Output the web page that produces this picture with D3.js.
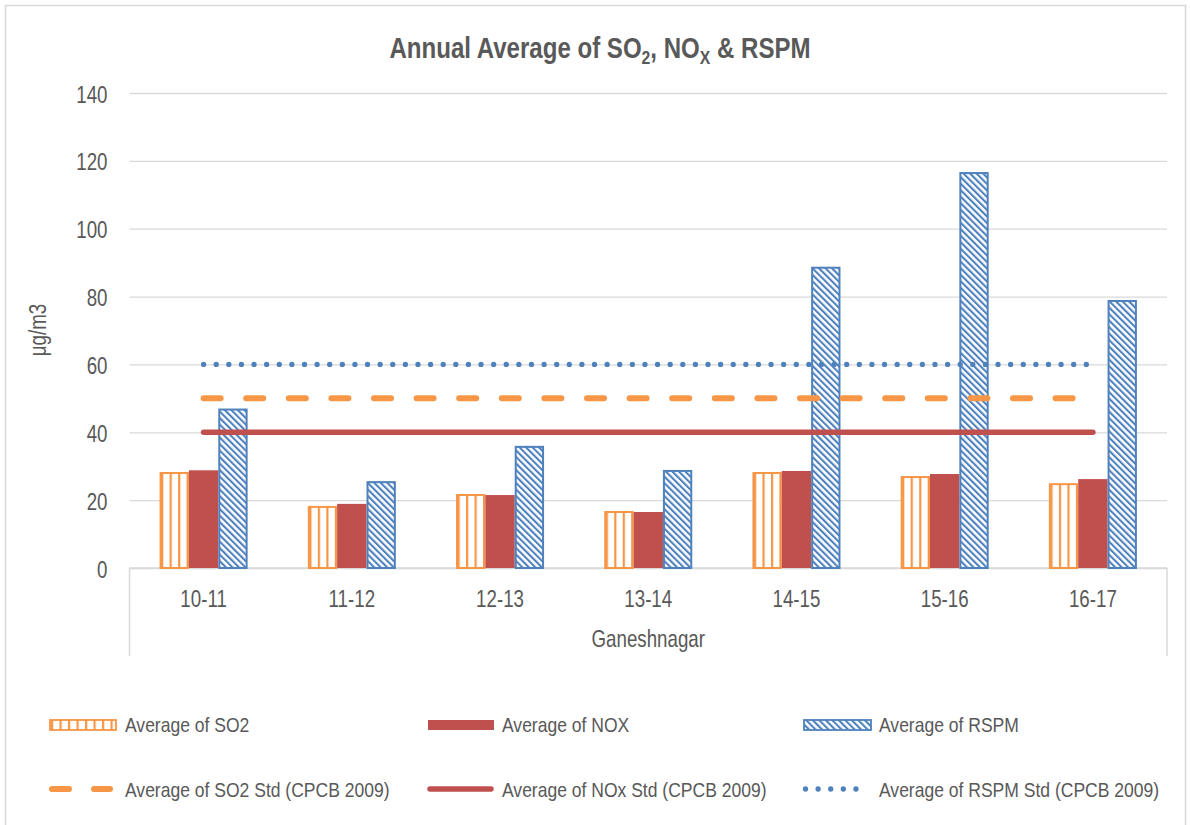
<!DOCTYPE html>
<html>
<head>
<meta charset="utf-8">
<script src="https://cdn.jsdelivr.net/npm/d3@7"></script>
<style>
  html, body { margin: 0; padding: 0; background: #ffffff; }
  svg { display: block; }
  text { font-family: "Liberation Sans", Arial, sans-serif; fill: #595959; }
</style>
</head>
<body>
<div id="chart"></div>
<script>
// ---------------- data ----------------
const categories = ["10-11", "11-12", "12-13", "13-14", "14-15", "15-16", "16-17"];
const so2Values  = [28.3, 18.3, 21.8, 16.8, 28.3, 27.1, 25.0];
const noxValues  = [28.8, 18.9, 21.5, 16.5, 28.6, 27.7, 26.2];
const rspmValues = [47.0, 25.6, 36.0, 28.9, 88.8, 116.7, 79.0];
const so2Std  = [50, 50, 50, 50, 50, 50, 50];
const noxStd  = [40, 40, 40, 40, 40, 40, 40];
const rspmStd = [60, 60, 60, 60, 60, 60, 60];
const yTicks = [0, 20, 40, 60, 80, 100, 120, 140];
const barSeries = ["Average of SO2", "Average of NOX", "Average of RSPM"];
const lineSeries = ["Average of SO2 Std (CPCB 2009)", "Average of NOx Std (CPCB 2009)", "Average of RSPM Std (CPCB 2009)"];
const groupLabel = "Ganeshnagar";
const yTitle = "μg/m3";

// ---------------- layout ----------------
const W = 1190, H = 825;
const plot = { left: 129.5, right: 1167, top: 93, bottom: 568 };
const ORANGE = "#F79646", RED = "#C0504D", BLUE = "#4F81BD", GRID = "#D9D9D9", TXT = "#595959";
const SX = 0.78;

const svg = d3.select("#chart").append("svg").attr("width", W).attr("height", H);
const defs = svg.append("defs");

// patterns
const pSO2 = defs.append("pattern").attr("id", "pSO2").attr("patternUnits", "userSpaceOnUse")
  .attr("width", 8.5).attr("height", 8);
pSO2.append("rect").attr("width", 8.5).attr("height", 8).attr("fill", "#fff");
pSO2.append("rect").attr("x", 0).attr("width", 2.2).attr("height", 8).attr("fill", ORANGE);

const pR = defs.append("pattern").attr("id", "pRSPM").attr("patternUnits", "userSpaceOnUse")
  .attr("width", 4.6).attr("height", 4.6).attr("patternTransform", "rotate(-45)");
pR.append("rect").attr("width", 4.6).attr("height", 4.6).attr("fill", "#fff");
pR.append("rect").attr("width", 2.1).attr("height", 4.6).attr("fill", BLUE);

// chart frame
svg.append("rect").attr("x", 5.5).attr("y", 5.5).attr("width", 1180).attr("height", 830)
  .attr("fill", "none").attr("stroke", GRID).attr("stroke-width", 1.5);

// scales
const x = d3.scaleBand().domain(categories).range([plot.left, plot.right]).paddingInner(0).paddingOuter(0);
const y = d3.scaleLinear().domain([0, 140]).range([plot.bottom, plot.top]);
const groupW = x.bandwidth() * 0.594;
const xs = d3.scaleBand().domain(barSeries).range([-groupW / 2, groupW / 2]);

// y axis with gridlines
const yAxis = svg.append("g").attr("transform", `translate(${plot.left},0)`)
  .call(d3.axisLeft(y).tickValues(yTicks).tickSize(-(plot.right - plot.left)).tickPadding(0));
yAxis.select(".domain").remove();
yAxis.selectAll(".tick line").attr("stroke", GRID).attr("stroke-width", 1.3);
yAxis.selectAll(".tick text")
  .attr("x", null).attr("dy", null)
  .attr("transform", "translate(-22,9) scale(" + SX + ",1)")
  .attr("text-anchor", "end")
  .style("font-size", "24px").style("font-family", "Liberation Sans, Arial, sans-serif").attr("fill", TXT);

// x axis
const xAxis = svg.append("g").attr("transform", `translate(0,${plot.bottom})`)
  .call(d3.axisBottom(x).tickSize(0).tickPadding(0));
xAxis.select(".domain").attr("stroke", GRID).attr("stroke-width", 1.5).attr("d", `M${plot.left},0H${plot.right}`);
xAxis.selectAll(".tick text")
  .attr("y", null).attr("dy", null)
  .attr("transform", "translate(0,39) scale(" + SX + ",1)")
  .attr("text-anchor", "middle")
  .style("font-size", "24px").style("font-family", "Liberation Sans, Arial, sans-serif").attr("fill", TXT);
// multi-level axis borders
[plot.left, plot.right].forEach(xx => {
  svg.append("line").attr("x1", xx).attr("x2", xx).attr("y1", plot.bottom).attr("y2", 656)
    .attr("stroke", GRID).attr("stroke-width", 1.5);
});
svg.append("text").attr("transform", `translate(${(plot.left + plot.right) / 2},647) scale(${SX},1)`)
  .attr("text-anchor", "middle").style("font-size", "24px").text(groupLabel);

// y title
svg.append("text").attr("transform", `translate(46,330) rotate(-90) scale(${SX},1)`)
  .attr("text-anchor", "middle").style("font-size", "24px").text(yTitle);

// bars
const rows = categories.map((c, i) => ({ c, vals: [so2Values[i], noxValues[i], rspmValues[i]] }));
const barStyle = [
  { fill: "url(#pSO2)", stroke: ORANGE, sw: 2 },
  { fill: RED, stroke: RED, sw: 0 },
  { fill: "url(#pRSPM)", stroke: BLUE, sw: 2 }
];
const groups = svg.append("g").selectAll("g").data(rows).join("g")
  .attr("transform", d => `translate(${x(d.c) + x.bandwidth() / 2},0)`);
groups.selectAll("rect").data(d => d.vals.map((v, k) => ({ v, k }))).join("rect")
  .attr("x", d => xs(barSeries[d.k]) + barStyle[d.k].sw / 2)
  .attr("width", d => xs.bandwidth() - barStyle[d.k].sw)
  .attr("y", d => y(d.v) + barStyle[d.k].sw / 2)
  .attr("height", d => y(0) - y(d.v) - barStyle[d.k].sw / 2)
  .attr("fill", d => barStyle[d.k].fill)
  .attr("stroke", d => barStyle[d.k].sw ? barStyle[d.k].stroke : "none")
  .attr("stroke-width", d => barStyle[d.k].sw);

// standard lines
const lineStyles = [
  { data: so2Std, color: ORANGE, sw: 6, dash: "17 25.6" },
  { data: noxStd, color: RED, sw: 5.5, dash: null },
  { data: rspmStd, color: BLUE, sw: 5.3, dash: "0 12.61" }
];
const lineGen = d3.line().x((d, i) => x(categories[i]) + x.bandwidth() / 2).y(d => y(d));
lineStyles.forEach(ls => {
  svg.append("path").datum(ls.data).attr("d", lineGen)
    .attr("fill", "none").attr("stroke", ls.color).attr("stroke-width", ls.sw)
    .attr("stroke-linecap", "round")
    .attr("stroke-dasharray", ls.dash);
});

// title
const title = svg.append("text").attr("transform", `translate(600,58) scale(0.83,1)`)
  .attr("text-anchor", "middle").style("font-size", "29px").style("font-weight", "bold");
title.append("tspan").text("Annual Average of SO");
title.append("tspan").text("2").style("font-size", "19px").attr("dy", 6);
title.append("tspan").text(", NO").attr("dy", -6);
title.append("tspan").text("X").style("font-size", "19px").attr("dy", 6);
title.append("tspan").text(" & RSPM").attr("dy", -6);

// legend
const legX = [49, 427, 803];
const txtX = [125, 502, 879];
const swW = [68, 68, 69];
const LSX = 0.835;
const leg = svg.append("g");
barSeries.forEach((s, k) => {
  const st = barStyle[k];
  leg.append("rect").attr("x", legX[k] + 1).attr("y", 720).attr("width", swW[k] - 2).attr("height", 10)
    .attr("fill", st.fill).attr("stroke", st.sw ? st.stroke : "none").attr("stroke-width", st.sw ? 1.8 : 0);
  leg.append("text").attr("transform", `translate(${txtX[k]},732) scale(${LSX},1)`)
    .style("font-size", "21px").text(s);
});
const legLineEnd = [113, 494, 867];
lineSeries.forEach((s, k) => {
  const ls = lineStyles[k];
  const x0 = legX[k] + (k === 2 ? 2.5 : 3);
  leg.append("line").attr("x1", x0).attr("x2", legLineEnd[k] - (k === 2 ? 2.5 : 3))
    .attr("y1", 789).attr("y2", 789)
    .attr("stroke", ls.color).attr("stroke-width", ls.sw).attr("stroke-linecap", "round")
    .attr("stroke-dasharray", k === 0 ? "17 25" : ls.dash);
  leg.append("text").attr("transform", `translate(${txtX[k]},797) scale(${LSX},1)`)
    .style("font-size", "21px").text(s);
});
</script>
</body>
</html>
